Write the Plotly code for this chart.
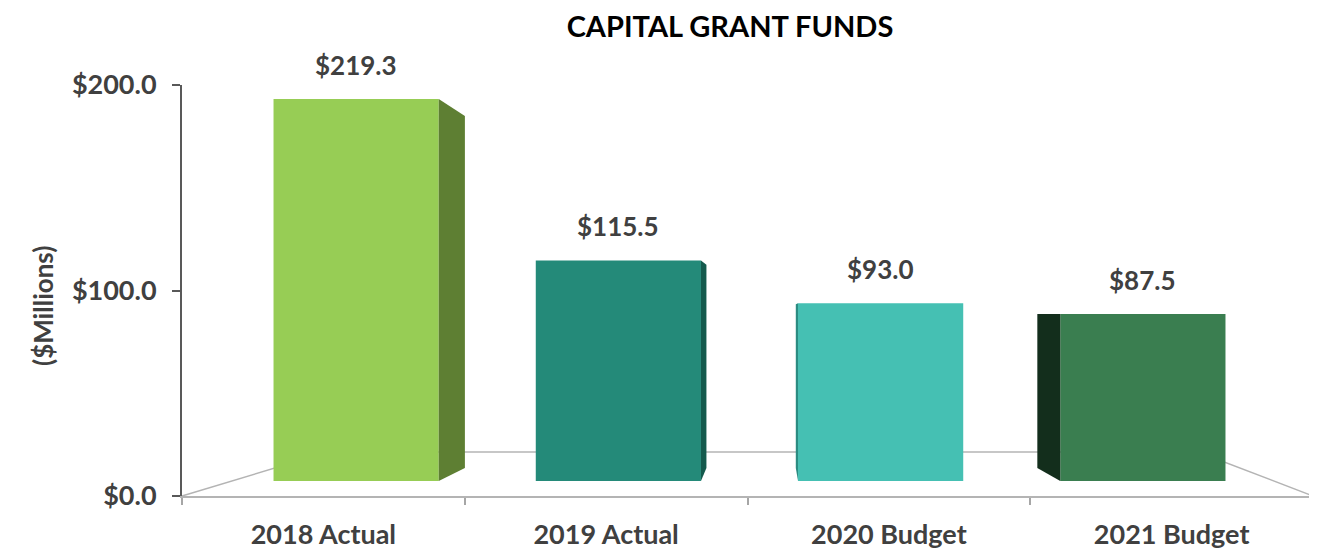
import plotly.graph_objects as go

W, H = 1317, 551
PAGE_PAD = 8  # default body margin of the page
FIG_W, FIG_H = W - PAGE_PAD, H - PAGE_PAD

categories = ["2018 Actual", "2019 Actual", "2020 Budget", "2021 Budget"]
values = [219.3, 115.5, 93.0, 87.5]
value_labels = ["$219.3", "$115.5", "$93.0", "$87.5"]
front_colors = ["#97cd55", "#248a79", "#45c0b3", "#3a7e50"]
side_colors = ["#5e7f33", "#145a4d", "#2b8c82", "#132e1c"]

Y_MAX = 200
BAR_W = 0.63
FONT = "Lato"
TXT = "#404040"

# fake 3D: the back of each bar is its front shrunk toward a vanishing point
VX, VY, DEPTH = 1.578, 86.9, 0.921


def px_x(p):
    return min(1, max(0, (p - PAGE_PAD) / FIG_W))


def px_y(p):
    return min(1, max(0, 1 - (p - PAGE_PAD) / FIG_H))


shown = [min(v, Y_MAX) for v in values]

fig = go.Figure()

# invisible trace so the category axis gets its labels
fig.add_trace(go.Scatter(
    x=categories, y=values, mode="markers", marker=dict(opacity=0),
    hoverinfo="skip", showlegend=False, xaxis="x", yaxis="y"
))

# side faces
for i, v in enumerate(shown):
    left, right = i - BAR_W / 2, i + BAR_W / 2
    if right < VX:
        edge = right
    elif left > VX:
        edge = left
    else:
        continue
    back_x = VX + DEPTH * (edge - VX)
    top_b = VY + DEPTH * (v - VY)
    bot_b = VY * (1 - DEPTH)
    fig.add_trace(go.Scatter(
        x=[edge, back_x, back_x, edge, edge], y=[v, top_b, bot_b, 0, v],
        mode="lines", fill="toself", fillcolor=side_colors[i],
        line=dict(width=0), hoverinfo="skip", showlegend=False,
        xaxis="x2", yaxis="y2"
    ))

# front faces
fig.add_trace(go.Bar(
    x=list(range(len(values))), y=shown, width=BAR_W,
    marker=dict(color=front_colors, line=dict(width=0)),
    hoverinfo="skip", showlegend=False, xaxis="x2", yaxis="y2"
))

for i, v in enumerate(shown):
    fig.add_annotation(
        x=i, y=v, xref="x2", yref="y2", text=value_labels[i],
        showarrow=False, yanchor="bottom", yshift=16,
        font=dict(family=FONT, size=26, color=TXT, weight="bold")
    )

# floor outline
floor = dict(xref="paper", yref="paper", type="line", layer="below",
             line=dict(color="#b4b4b4", width=1.5))
fig.add_shape(x0=px_x(182), y0=px_y(496), x1=px_x(328), y1=px_y(452), **floor)
fig.add_shape(x0=px_x(328), y0=px_y(452), x1=px_x(1198), y1=px_y(452), **floor)
fig.add_shape(x0=px_x(1198), y0=px_y(452), x1=px_x(1313), y1=px_y(496), **floor)

fig.add_annotation(
    x=px_x(25), y=px_y(306), xref="paper", yref="paper", text="($Millions)",
    textangle=-90, showarrow=False,
    font=dict(family=FONT, size=26, color=TXT, weight="bold")
)

fig.update_layout(
    width=FIG_W, height=FIG_H,
    margin=dict(l=0, r=0, t=0, b=0, autoexpand=False),
    paper_bgcolor="white", plot_bgcolor="rgba(0,0,0,0)",
    title=dict(text="CAPITAL GRANT FUNDS", x=px_x(730), y=px_y(27),
               xanchor="center", yanchor="middle",
               xref="paper", yref="paper", automargin=False,
               font=dict(family=FONT, size=29, color="black", weight="bold")),
    xaxis=dict(domain=[px_x(182), px_x(1313)], type="category",
               categoryarray=categories, range=[-0.5, 3.5],
               tickson="boundaries", ticks="outside", ticklen=7,
               tickcolor="#a6a6a6", tickwidth=1.5,
               showline=True, linecolor="#b4b4b4", linewidth=2,
               showgrid=False, anchor="y", ticklabelstandoff=14,
               automargin=False,
               tickfont=dict(family=FONT, size=27, color=TXT, weight="bold")),
    yaxis=dict(domain=[px_y(496), px_y(85)], range=[0, Y_MAX], dtick=100,
               tickformat="$.1f", ticks="outside", ticklen=8, tickwidth=2,
               tickcolor="#595959", showline=True, linecolor="#595959",
               linewidth=2, showgrid=False, zeroline=False, anchor="x",
               ticklabelstandoff=10, automargin=False,
               tickfont=dict(family=FONT, size=27, color=TXT, weight="bold")),
    xaxis2=dict(domain=[px_x(225), px_x(1274)], range=[-0.5, 3.5],
                visible=False, anchor="y2", automargin=False),
    yaxis2=dict(domain=[px_y(481), px_y(99)], range=[0, Y_MAX],
                visible=False, anchor="x2", automargin=False),
)

fig.write_html("out.html")
